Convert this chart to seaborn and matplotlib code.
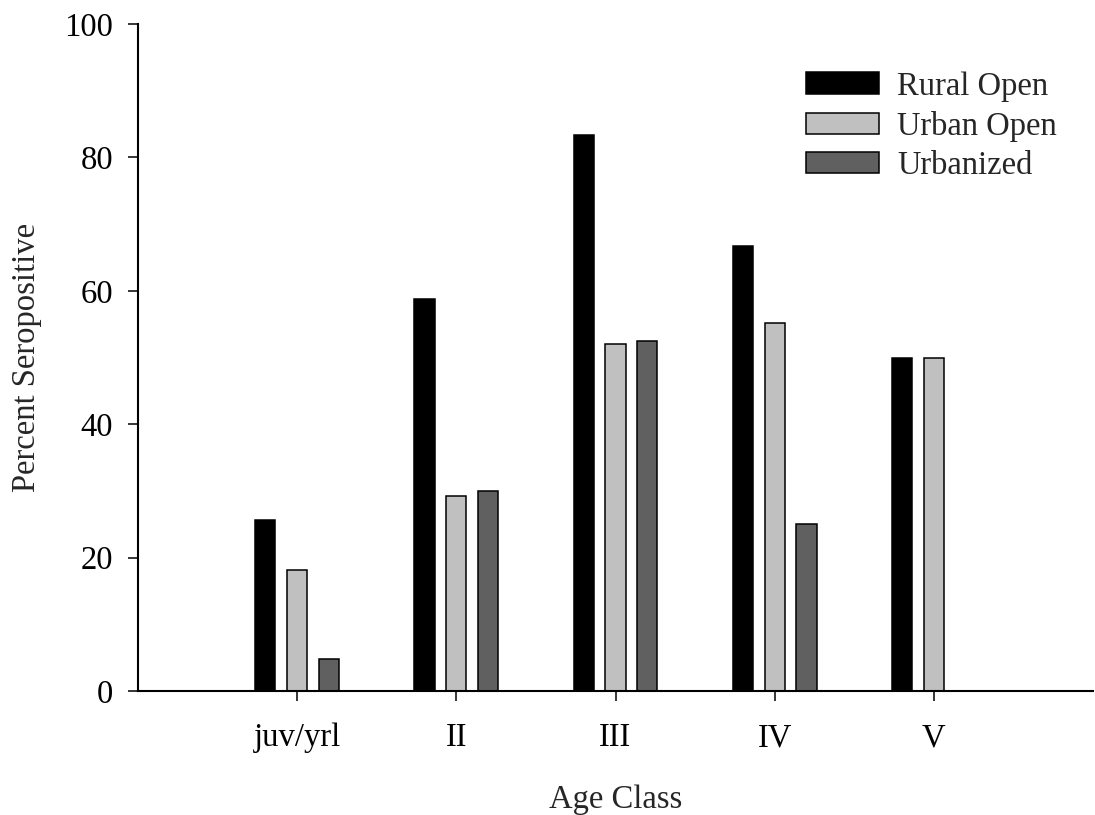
import matplotlib
matplotlib.use("Agg")
import matplotlib.pyplot as plt
import seaborn as sns
import pandas as pd
import numpy as np

age_classes = ["juv/yrl", "II", "III", "IV", "V"]
habitats = ["Rural Open", "Urban Open", "Urbanized"]
rural_open = [25.6, 58.7, 83.3, 66.7, 50.0]
urban_open = [18.2, 29.2, 52.0, 55.2, 50.0]
urbanized = [4.8, 30.0, 52.4, 25.0, None]
colors = ["#000000", "#c0c0c0", "#606060"]

rows = []
for hab, vals in zip(habitats, [rural_open, urban_open, urbanized]):
    for ac, v in zip(age_classes, vals):
        if v is not None:
            rows.append({"Age Class": ac, "Habitat": hab, "Percent": v})
df = pd.DataFrame(rows)

sns.set_style("ticks")
plt.rcParams["font.family"] = ["Liberation Serif", "DejaVu Serif"]
FS = 23.5

fig = plt.figure(figsize=(10.95, 8.15), dpi=100)
ax = fig.add_axes([138 / 1095, (815 - 691) / 815, (1093 - 138) / 1095, (691 - 24) / 815])

sns.barplot(data=df, x="Age Class", y="Percent", hue="Habitat",
            order=age_classes, hue_order=habitats, palette=colors,
            width=0.6, gap=0.37, edgecolor="black", linewidth=1.1,
            saturation=1, errorbar=None, ax=ax)

ax.set_xlim(-1, 5)
ax.set_ylim(0, 100)
ax.set_yticks([0, 20, 40, 60, 80, 100])
ax.spines["top"].set_visible(False)
ax.spines["right"].set_visible(False)
for s in ["left", "bottom"]:
    ax.spines[s].set_linewidth(1.5)
    ax.spines[s].set_color("black")
ax.tick_params(axis="both", direction="out", length=7, width=1.1, colors="black",
               labelsize=FS)
ax.tick_params(axis="x", pad=16)
ax.tick_params(axis="y", pad=11)

ax.set_xlabel("Age Class", fontsize=FS)
ax.set_ylabel("Percent Seropositive", fontsize=FS)
ax.xaxis.set_label_coords(0.5, -0.14)
ax.yaxis.set_label_coords(-0.101, 0.5)

leg = ax.legend(loc="upper left", bbox_to_anchor=(806 / 1095, (815 - 71) / 815),
                bbox_transform=fig.transFigure, frameon=False, fontsize=FS,
                borderaxespad=0, borderpad=0, handlelength=2.25, handleheight=0.62,
                handletextpad=0.55, labelspacing=0.28, title=None)

fig.savefig("out.png", dpi=100)
